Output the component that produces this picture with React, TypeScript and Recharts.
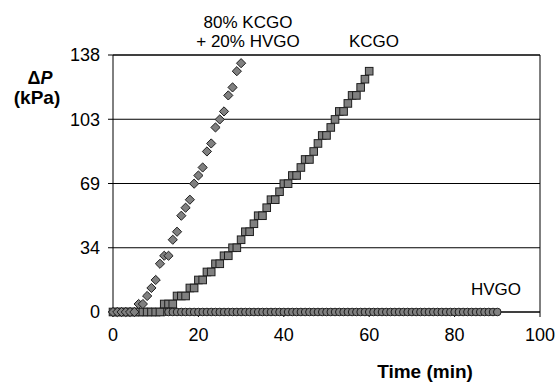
import React from 'react';
import { ScatterChart, Scatter, XAxis, YAxis, CartesianGrid, ReferenceLine } from 'recharts';

// HVGO: flat at zero for the whole run
const hvgoTime = [
  0, 1, 2, 3, 4, 5, 6, 7, 8, 9, 10, 11, 12, 13, 14, 15, 16, 17, 18, 19,
  20, 21, 22, 23, 24, 25, 26, 27, 28, 29, 30, 31, 32, 33, 34, 35, 36, 37, 38, 39,
  40, 41, 42, 43, 44, 45, 46, 47, 48, 49, 50, 51, 52, 53, 54, 55, 56, 57, 58, 59,
  60, 61, 62, 63, 64, 65, 66, 67, 68, 69, 70, 71, 72, 73, 74, 75, 76, 77, 78, 79,
  80, 81, 82, 83, 84, 85, 86, 87, 88, 89, 90,
];
const hvgoDp = [
  0, 0, 0, 0, 0, 0, 0, 0, 0, 0, 0, 0, 0, 0, 0, 0, 0, 0, 0, 0,
  0, 0, 0, 0, 0, 0, 0, 0, 0, 0, 0, 0, 0, 0, 0, 0, 0, 0, 0, 0,
  0, 0, 0, 0, 0, 0, 0, 0, 0, 0, 0, 0, 0, 0, 0, 0, 0, 0, 0, 0,
  0, 0, 0, 0, 0, 0, 0, 0, 0, 0, 0, 0, 0, 0, 0, 0, 0, 0, 0, 0,
  0, 0, 0, 0, 0, 0, 0, 0, 0, 0, 0,
];

// KCGO
const kcgoTime = [
  0, 1, 2, 3, 4, 5, 6, 7, 8, 9, 10, 11, 12, 13, 14, 15, 16, 17, 18, 19,
  20, 21, 22, 23, 24, 25, 26, 27, 28, 29, 30, 31, 32, 33, 34, 35, 36, 37, 38, 39,
  40, 41, 42, 43, 44, 45, 46, 47, 48, 49, 50, 51, 52, 53, 54, 55, 56, 57, 58, 59, 60,
];
const kcgoDp = [
  0, 0, 0, 0, 0, 0, 0, 0, 0, 0, 0, 0, 4.3, 4.3, 4.3, 8.6, 8.6, 8.6, 12.9, 12.9,
  17.2, 17.2, 21.5, 21.5, 25.9, 25.9, 30.2, 30.2, 34.5, 34.5, 38.8, 43.1, 43.1, 47.4, 51.7, 51.7, 56.0, 60.3, 60.3, 64.6,
  68.9, 68.9, 73.3, 73.3, 77.6, 81.9, 81.9, 86.2, 90.5, 94.8, 94.8, 99.1, 103.4, 107.7, 107.7, 112.0, 116.3, 116.3, 120.6, 125.0, 129.3,
];

// 80% KCGO + 20% HVGO
const blendTime = [
  0, 1, 2, 3, 4, 5, 6, 7, 8, 9, 10, 11, 12, 13, 14, 15, 16, 17, 18, 19,
  20, 21, 22, 23, 24, 25, 26, 27, 28, 29, 30,
];
const blendDp = [
  0, 0, 0, 0, 0, 0, 4.3, 4.3, 8.6, 12.9, 17.2, 25.9, 30.2, 30.2, 38.8, 43.1, 51.7, 56.0, 60.3, 68.9,
  73.3, 77.6, 86.2, 90.5, 99.1, 103.4, 107.7, 116.3, 120.6, 129.3, 133.6,
];

const xTicks = [0, 20, 40, 60, 80, 100];
const yTicks = [0, 34.5, 69, 103.5, 138];
const yTickLabels = ['0', '34', '69', '103', '138'];

const toPoints = (ts: number[], vs: number[]) => ts.map((t, i) => ({ t, dp: vs[i] }));

const FONT = '"Liberation Sans", Arial, sans-serif';
const FILL = '#808080';
const EDGE = '#1e1e1e';

const Diamond = (p: any) => {
  const { cx, cy } = p;
  const r = 4.6;
  return <path d={`M${cx},${cy - r}L${cx + r},${cy}L${cx},${cy + r}L${cx - r},${cy}Z`} fill={FILL} stroke={EDGE} strokeWidth={1} />;
};

const Square = (p: any) => {
  const { cx, cy } = p;
  const h = 3.8;
  return <rect x={cx - h} y={cy - h} width={h * 2} height={h * 2} fill={FILL} stroke={EDGE} strokeWidth={1} />;
};

const Dot = (p: any) => {
  const { cx, cy } = p;
  return <circle cx={cx} cy={cy} r={3.8} fill={FILL} stroke={EDGE} strokeWidth={1} />;
};

export default function App() {
  const tickStyle = { fill: '#000', fontSize: 18, fontFamily: FONT };
  return (
    <div style={{ position: 'absolute', left: 0, top: 0, width: 559, height: 383, background: '#fff' }}>
      <ScatterChart width={559} height={383} margin={{ top: 55, right: 19, left: 0, bottom: 0 }}>
        <CartesianGrid vertical={false} stroke="#000" strokeWidth={1} />
        <XAxis
          type="number"
          dataKey="t"
          domain={[0, 100]}
          ticks={xTicks}
          height={71}
          tickSize={5}
          tickMargin={11}
          tick={tickStyle}
          axisLine={{ stroke: '#000' }}
          tickLine={{ stroke: '#000' }}
        />
        <YAxis
          type="number"
          dataKey="dp"
          domain={[0, 138]}
          ticks={yTicks}
          width={113}
          tickSize={5}
          tickMargin={8}
          tick={tickStyle}
          tickFormatter={(v: number) => yTickLabels[yTicks.indexOf(v)]}
          axisLine={{ stroke: '#000' }}
          tickLine={{ stroke: '#000' }}
        />
        <ReferenceLine x={100} stroke="#000" />
        <ReferenceLine y={138} stroke="#000" />
        <Scatter data={toPoints(hvgoTime, hvgoDp)} shape={Dot} isAnimationActive={false} />
        <Scatter data={toPoints(kcgoTime, kcgoDp)} shape={Square} isAnimationActive={false} />
        <Scatter data={toPoints(blendTime, blendDp)} shape={Diamond} isAnimationActive={false} />
      </ScatterChart>
      <svg width={559} height={383} style={{ position: 'absolute', left: 0, top: 0, pointerEvents: 'none' }}>
        <g fontFamily={FONT} fill="#000">
          <text x={248} y={28} fontSize={17} textAnchor="middle">80% KCGO</text>
          <text x={248} y={47} fontSize={17} textAnchor="middle">+ 20% HVGO</text>
          <text x={374} y={47} fontSize={17} textAnchor="middle">KCGO</text>
          <text x={496} y={295} fontSize={17} textAnchor="middle">HVGO</text>
          <text x={40} y={84} fontSize={18} fontWeight="bold" textAnchor="middle">
            Δ<tspan fontStyle="italic">P</tspan>
          </text>
          <text x={37} y={104} fontSize={19} fontWeight="bold" textAnchor="middle">(kPa)</text>
          <text x={425} y={378} fontSize={19} fontWeight="bold" textAnchor="middle">Time (min)</text>
        </g>
      </svg>
    </div>
  );
}
